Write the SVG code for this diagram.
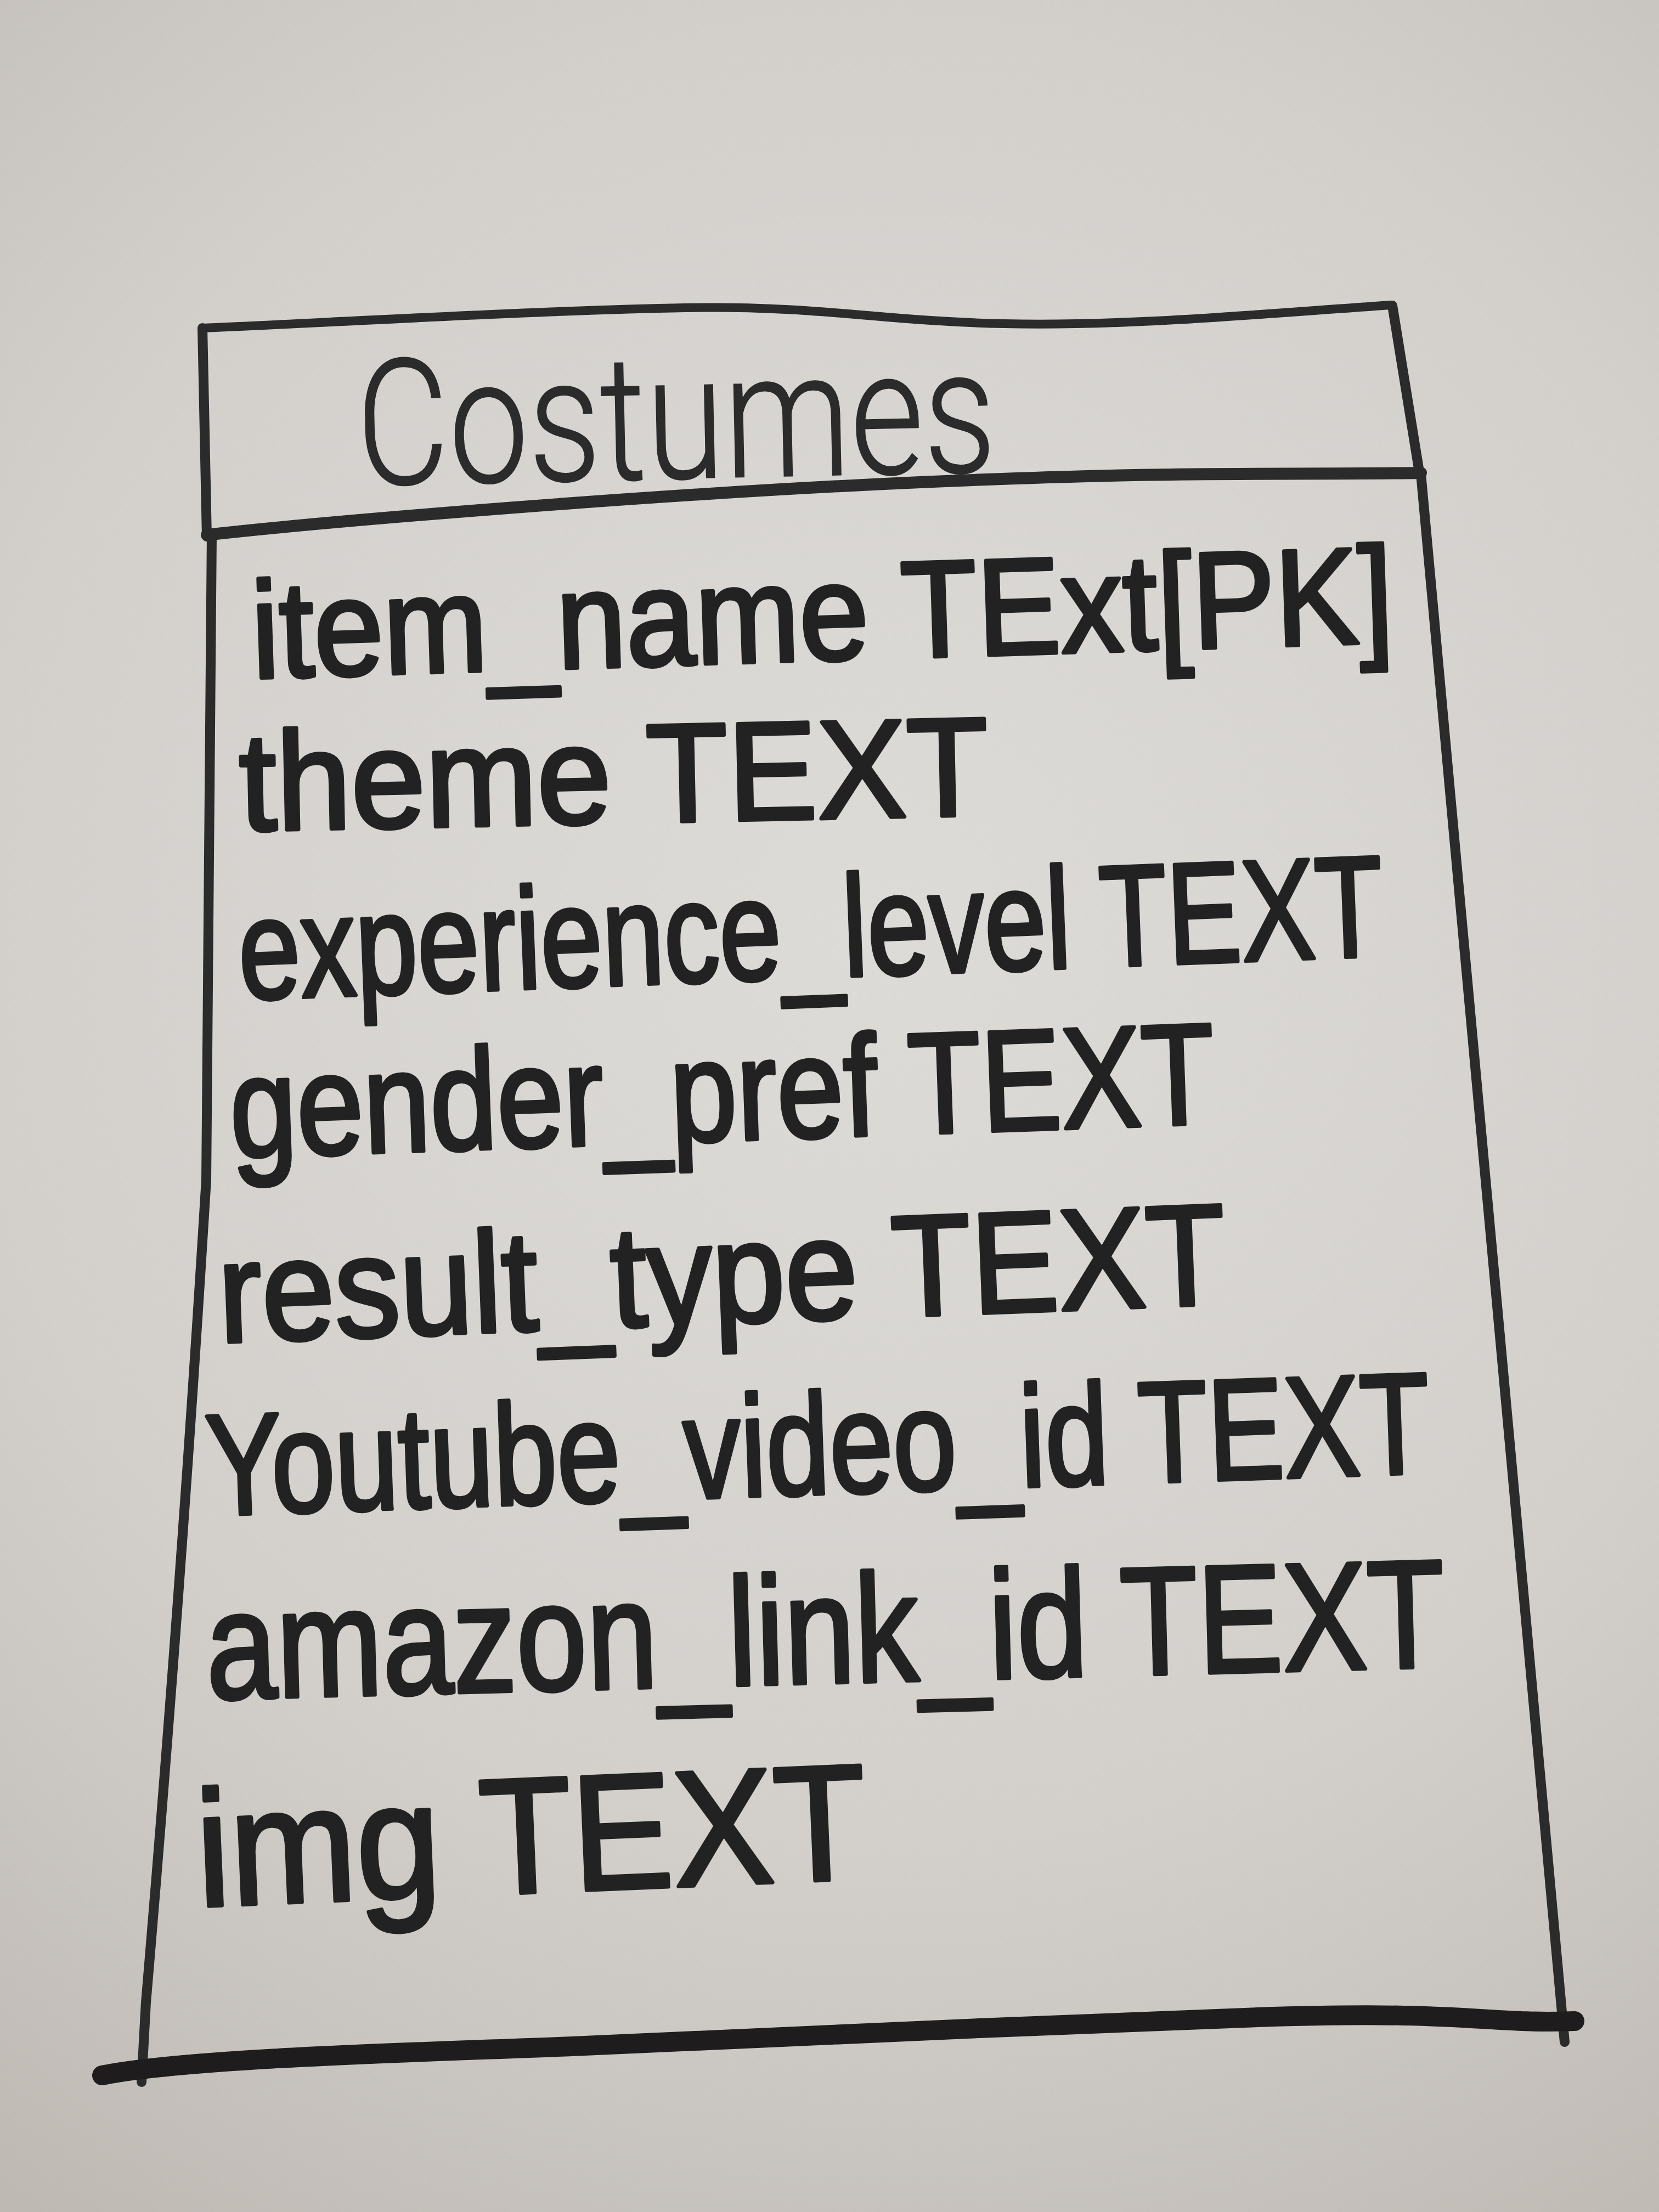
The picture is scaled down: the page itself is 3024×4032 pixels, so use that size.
<svg xmlns="http://www.w3.org/2000/svg" width="3024" height="4032" viewBox="0 0 3024 4032">
<defs>
<radialGradient id="bg" cx="1600" cy="1700" r="3000" gradientUnits="userSpaceOnUse">
<stop offset="0" stop-color="#dddbd8"/>
<stop offset="0.55" stop-color="#d3d0cc"/>
<stop offset="1" stop-color="#bbb5af"/>
</radialGradient>
<style>
.ink{fill:none;stroke:#2b2b2b;stroke-linecap:round;stroke-linejoin:round}
.row{font-family:"Liberation Sans","Arial",sans-serif;fill:#222;stroke:#222;stroke-width:7;stroke-linejoin:round}
.title{font-family:"Roboto","Liberation Sans",sans-serif;font-weight:300;fill:#2b2b2b;stroke:#2b2b2b;stroke-width:2}
</style>
</defs>
<rect x="0" y="0" width="3024" height="4032" fill="url(#bg)"/>
<g id="connectors"/>
<g id="costumes">
<g id="header">
<path class="ink" stroke-width="16" d="M369,598 C560,590 1000,565 1249,561 S1600,585 1830,590 S2300,572 2536,556"/>
<path class="ink" stroke-width="18" d="M369,598 L377,978"/>
<path class="ink" stroke-width="18" d="M2538,557 L2588,866"/>
<path class="ink" stroke-width="22" d="M377,975 C600,950 1200,900 1677,879 S2300,866 2590,862"/>
<text class="title" x="652" y="884" font-size="320" textLength="1165" lengthAdjust="spacingAndGlyphs" transform="rotate(-1.2 652 884)">Costumes</text>
</g>
<g id="body">
<path class="ink" stroke-width="18" d="M386,975 L376,2150 Q330,2900 266,3650 L258,3795"/>
<path class="ink" stroke-width="18" d="M2590,864 L2852,3722"/>
<path fill="none" stroke="#1e1c1c" stroke-width="36" stroke-linecap="round" d="M186,3783 C350,3750 800,3740 1043,3730 S1900,3690 2293,3677 S2700,3690 2870,3684"/>
<text class="row" font-size="250" transform="translate(461 1236) rotate(-1.8) scale(0.91 1)">item_name TExt[PK]</text>
<text class="row" font-size="255" transform="translate(438 1514) rotate(-1.2) scale(0.957 1)">theme TEXT</text>
<text class="row" font-size="262" transform="translate(438 1822) rotate(-2.2) scale(0.772 1)">experience_level TEXT</text>
<text class="row" font-size="262" transform="translate(422 2110) rotate(-2) scale(0.835 1)">gender_pref TEXT</text>
<text class="row" font-size="262" transform="translate(401 2447) rotate(-2.2) scale(0.91 1)">result_type TEXT</text>
<text class="row" font-size="262" transform="translate(378 2762) rotate(-2) scale(0.794 1)">Youtube_video_id TEXT</text>
<text class="row" font-size="280" transform="translate(378 3097) rotate(-1.5) scale(0.826 1)">amazon_link_id TEXT</text>
<text class="row" font-size="300" transform="translate(362 3475) rotate(-2.4) scale(0.92 1)">img TEXT</text>
</g>
</g>
</svg>
